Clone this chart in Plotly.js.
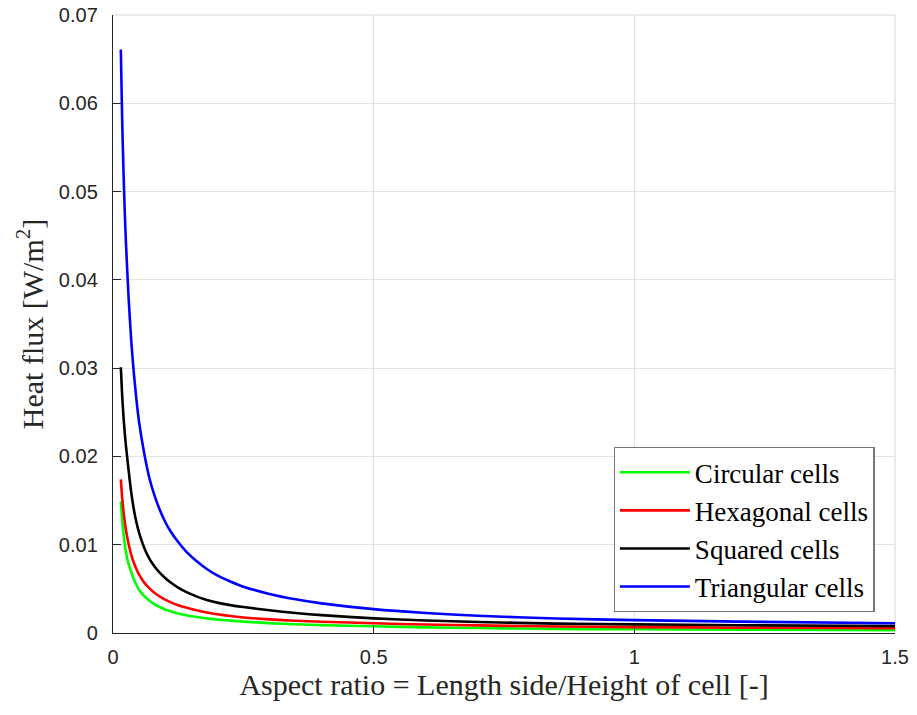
<!DOCTYPE html>
<html>
<head>
<meta charset="utf-8">
<script src="https://cdn.plot.ly/plotly-3.0.1.min.js"></script>
<style>html,body{margin:0;padding:0;background:#fff;}#chart{width:917px;height:715px;}</style>
</head>
<body>
<div id="chart"></div>
<script>
const aspectRatio = [0.015, 0.0175, 0.02, 0.0225, 0.025, 0.03, 0.035, 0.04, 0.045, 0.05, 0.06, 0.07, 0.08, 0.09, 0.1, 0.11, 0.125, 0.14, 0.16, 0.18, 0.2, 0.225, 0.25, 0.3, 0.35, 0.4, 0.5, 0.6, 0.7, 0.85, 1.0, 1.2, 1.5];
const circular   = [0.0149, 0.01287, 0.01134, 0.01015, 0.0091, 0.0078, 0.0069, 0.00608, 0.00544, 0.0049, 0.00417, 0.00365, 0.00325, 0.00293, 0.00267, 0.00246, 0.00222, 0.00202, 0.00182, 0.00166, 0.00152, 0.0014, 0.00129, 0.00112, 0.00099, 0.00089, 0.00076, 0.00064, 0.00056, 0.00047, 0.00042, 0.00037, 0.00031];
const hexagonal  = [0.0174, 0.0154, 0.01387, 0.01264, 0.01161, 0.01005, 0.00886, 0.00795, 0.00722, 0.00661, 0.00571, 0.00505, 0.00453, 0.00412, 0.00378, 0.0035, 0.00315, 0.00288, 0.00257, 0.00232, 0.00213, 0.00192, 0.00176, 0.00154, 0.00139, 0.00128, 0.0011, 0.00096, 0.00086, 0.00074, 0.00067, 0.0006, 0.00053];
const squared    = [0.0301, 0.0270, 0.0246, 0.0227, 0.0211, 0.0184, 0.0159, 0.0140, 0.01252, 0.01138, 0.00964, 0.0084, 0.00751, 0.0068, 0.00623, 0.00574, 0.00514, 0.00466, 0.00415, 0.00374, 0.00344, 0.00316, 0.00294, 0.00257, 0.00226, 0.00202, 0.00166, 0.00142, 0.00125, 0.00106, 0.00098, 0.00088, 0.00079];
const triangular = [0.0661, 0.0584, 0.0525, 0.0478, 0.0440, 0.0379, 0.0331, 0.0294, 0.0264, 0.0239, 0.0203, 0.0175, 0.0155, 0.0139, 0.0126, 0.01155, 0.0103, 0.00925, 0.00815, 0.00725, 0.00652, 0.00583, 0.00525, 0.00443, 0.00382, 0.00336, 0.0027, 0.00227, 0.00196, 0.00164, 0.00146, 0.00129, 0.0011];
const seriesNames = ["Circular cells", "Hexagonal cells", "Squared cells", "Triangular cells"];
const seriesColors = ["#00ff00", "#ff0000", "#000000", "#0000ff"];
const xTicks = [0, 0.5, 1, 1.5];
const xTickText = ["0", "0.5", "1", "1.5"];
const yTicks = [0, 0.01, 0.02, 0.03, 0.04, 0.05, 0.06, 0.07];
const yTickText = ["0", "0.01", "0.02", "0.03", "0.04", "0.05", "0.06", "0.07"];

const series = [circular, hexagonal, squared, triangular];
const data = series.map((ys, i) => ({
  x: aspectRatio, y: ys, type: "scatter", mode: "lines",
  name: seriesNames[i],
  line: {color: seriesColors[i], width: 2.6, shape: "spline", smoothing: 0.6}
}));

const tickFont = {family: "Liberation Sans, Arial, sans-serif", size: 20, color: "#262626"};
const titleFont = {family: "Liberation Serif, Times New Roman, serif", size: 30, color: "#262626"};

const layout = {
  width: 917, height: 715,
  margin: {l: 113, r: 22, t: 15, b: 82, pad: 0},
  paper_bgcolor: "#fff", plot_bgcolor: "#fff",
  showlegend: true,
  xaxis: {
    range: [0, 1.5], tickvals: xTicks, ticktext: xTickText,
    ticks: "inside", ticklen: 8, tickcolor: "#262626", tickwidth: 1,
    showline: true, linecolor: "#262626", linewidth: 1.2,
    showgrid: true, gridcolor: "#e3e3e3", gridwidth: 1, zeroline: false,
    tickfont: tickFont, ticklabelstandoff: 6,
    title: {text: "Aspect ratio = Length side/Height of cell [-]", font: titleFont, standoff: 6}
  },
  yaxis: {
    range: [0, 0.07], tickvals: yTicks, ticktext: yTickText,
    ticks: "inside", ticklen: 8, tickcolor: "#262626", tickwidth: 1,
    showline: true, linecolor: "#262626", linewidth: 1.2,
    showgrid: true, gridcolor: "#e3e3e3", gridwidth: 1, zeroline: false,
    tickfont: tickFont, ticklabelstandoff: 10,
    title: {text: "Heat flux [W/m<sup>2</sup>]", font: titleFont, standoff: 6}
  },
  shapes: [
    {type: "line", xref: "paper", yref: "paper", x0: 0, x1: 1, y0: 1, y1: 1, line: {color: "#e3e3e3", width: 1.5}, layer: "below"},
    {type: "line", xref: "paper", yref: "paper", x0: 1, x1: 1, y0: 0, y1: 1, line: {color: "#e3e3e3", width: 1.5}, layer: "below"}
  ],
  legend: {
    x: 0.974, y: 0.034, xanchor: "right", yanchor: "bottom",
    bgcolor: "#ffffff", bordercolor: "#777777", borderwidth: 1.2,
    font: {family: "Liberation Serif, Times New Roman, serif", size: 27, color: "#000"},
    itemwidth: 70, tracegroupgap: 0
  }
};

Plotly.newPlot("chart", data, layout, {displayModeBar: false, staticPlot: true});
</script>
</body>
</html>
